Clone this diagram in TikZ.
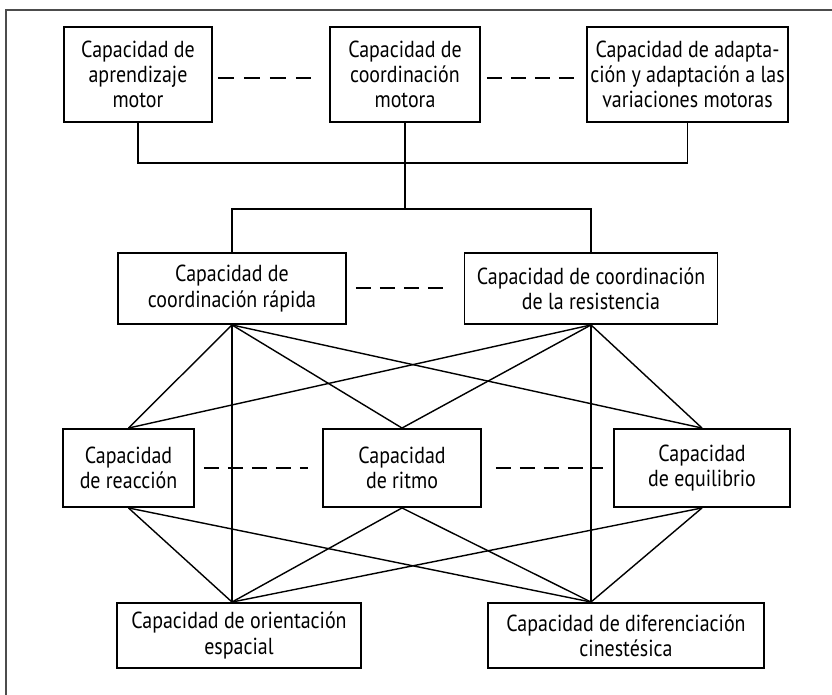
\documentclass[tikz,border=0pt]{standalone}
\usepackage{fontspec}
\setmainfont[FakeStretch=0.86]{PT Sans}

\begin{document}
\begin{tikzpicture}[x=0.02cm, y=-0.02cm,
		box/.style={draw, line width=1.1pt, align=center, inner sep=0pt, font=\fontsize{13.2}{14.4}\selectfont},
		link/.style={line width=0.8pt},
		dashlink/.style={line width=1.1pt, dash pattern=on 0.3cm off 0.18cm}]
	\useasboundingbox (0,0) rectangle (832,695);
	% open frame, top and left only
	\draw[gray!60!black, line width=0.8pt] (832,10) -- (6,10) -- (6,695);

	% first level
	\node[box, minimum width=2.96cm, minimum height=1.9cm] (learn) at (138,74.5) {Capacidad de\\aprendizaje\\motor};
	\node[box, minimum width=3.0cm, minimum height=1.9cm] (coord) at (405,74.5) {Capacidad de\\coordinación\\motora};
	\node[box, minimum width=4.02cm, minimum height=1.9cm] (adapt) at (687.5,74.5) {Capacidad de adapta-\\ción y adaptación a las\\variaciones motoras};
	% second level
	\node[box, minimum width=4.56cm, minimum height=1.42cm] (quick) at (232,288.5) {Capacidad de\\coordinación rápida};
	\node[box, minimum width=5.06cm, minimum height=1.42cm] (endur) at (591,288.5) {Capacidad de coordinación\\de la resistencia};
	% third level
	\node[box, minimum width=2.62cm, minimum height=1.56cm] (react) at (128.5,468) {Capacidad\\de reacción};
	\node[box, minimum width=3.16cm, minimum height=1.56cm] (rhythm) at (402,468) {Capacidad\\de ritmo};
	\node[box, minimum width=3.52cm, minimum height=1.56cm] (balance) at (702,468) {Capacidad\\de equilibrio};
	% fourth level
	\node[box, minimum width=4.88cm, minimum height=1.3cm] (orient) at (239,635.5) {Capacidad de orientación\\espacial};
	\node[box, minimum width=5.52cm, minimum height=1.3cm] (kin) at (626,635.5) {Capacidad de diferenciación\\cinestésica};

	% tree joints
	\coordinate (hub1) at (405,163);
	\coordinate (hub2) at (405,209);
	\coordinate (orientin) at (quick.south |- orient.north);
	\coordinate (kinin) at (endur.south |- kin.north);
	\draw[link] (learn.south) |- (hub1) -| (adapt.south);
	\draw[link] (coord.south) -- (hub1) -- (hub2);
	\draw[link] (quick.north) |- (hub2) -| (endur.north);

	% crossings between levels
	\foreach \a in {quick, endur}
		\foreach \b in {react, rhythm, balance}
			\draw[link] (\a.south) -- (\b.north);
	\draw[link] (quick.south) -- (orientin);
	\draw[link] (endur.south) -- (kinin);
	\foreach \a in {react, rhythm, balance} {
		\draw[link] (\a.south) -- (orientin);
		\draw[link] (\a.south) -- (kinin);
	}

	% dashed relations on each level
	\draw[dashlink, dash pattern=on 0.32cm off 0.2cm, shorten <=0.1cm, shorten >=0.36cm] (learn.east |- 0,78) -- (coord.west |- 0,78);
	\draw[dashlink, shorten <=0.12cm, shorten >=0.18cm] (coord.east |- 0,78) -- (adapt.west |- 0,78);
	\draw[dashlink, shorten <=0.18cm, shorten >=0.24cm] (quick.east |- 0,288) -- (endur.west |- 0,288);
	\draw[dashlink, shorten <=0.18cm, shorten >=0.28cm] (react.east) -- (rhythm.west);
	\draw[dashlink, shorten <=0.28cm, shorten >=0.2cm] (rhythm.east) -- (balance.west);
\end{tikzpicture}
\end{document}
